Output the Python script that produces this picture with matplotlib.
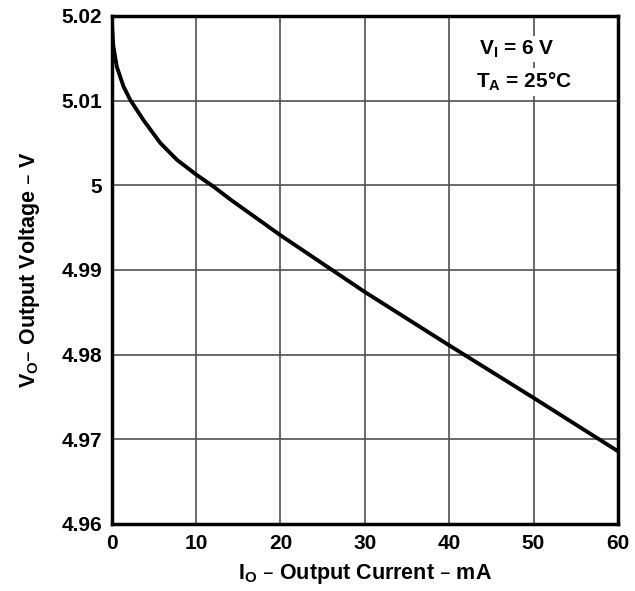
import numpy as np
import matplotlib
matplotlib.use("Agg")
import matplotlib.pyplot as plt

plt.rcParams["font.family"] = ["Liberation Sans", "DejaVu Sans"]
plt.rcParams["font.weight"] = "bold"
plt.rcParams["mathtext.default"] = "regular"

# output current (mA) and output voltage (V)
current_ma = [0, 0.05, 0.19, 0.6, 1.38, 2.18, 3.76, 5.75, 7.74, 10.1, 12.06, 14.1,
              20, 30, 40, 50, 60]
voltage_v = [5.02, 5.0185, 5.0164, 5.0140, 5.0117, 5.0101, 5.0077, 5.0050, 5.0030,
             5.0012, 4.99985, 4.9983, 4.9941, 4.9874, 4.9811, 4.9749, 4.9686]

x_ticks = [0, 10, 20, 30, 40, 50, 60]
y_ticks = [4.96, 4.97, 4.98, 4.99, 5.00, 5.01, 5.02]
y_tick_labels = ["4.96", "4.97", "4.98", "4.99", "5", "5.01", "5.02"]

fig = plt.figure(figsize=(6.35, 5.91), dpi=100)
ax = fig.add_axes([0.176, 0.1134, 0.797, 0.8596])

ax.plot(current_ma, voltage_v, color="black", linewidth=2.8, solid_capstyle="butt")

ax.set_xlim(0, 60)
ax.set_ylim(4.96, 5.02)
ax.set_xticks(x_ticks)
ax.set_yticks(y_ticks)
ax.set_yticklabels(y_tick_labels)
ax.tick_params(length=0, labelsize=15, pad=7)
for lab in ax.get_xticklabels() + ax.get_yticklabels():
    lab.set_fontweight("bold")

ax.grid(True, color="#505050", linewidth=1.2)
for s in ax.spines.values():
    s.set_linewidth(2.5)
    s.set_color("black")

ax.set_xlabel(r"I$_O$ – Output Current – mA", fontsize=15.5, fontweight="bold", labelpad=7)
ax.set_ylabel(r"V$_O$– Output Voltage – V", fontsize=15.5, fontweight="bold", labelpad=14)

ax.text(0.725, 0.935, r"V$_I$ = 6 V", transform=ax.transAxes, fontsize=15,
        fontweight="bold", va="center", ha="left",
        bbox=dict(facecolor="white", edgecolor="none", pad=2))
ax.text(0.72, 0.87, r"T$_A$ = 25°C", transform=ax.transAxes, fontsize=15,
        fontweight="bold", va="center", ha="left",
        bbox=dict(facecolor="white", edgecolor="none", pad=2))

fig.savefig("out.png", dpi=100)
